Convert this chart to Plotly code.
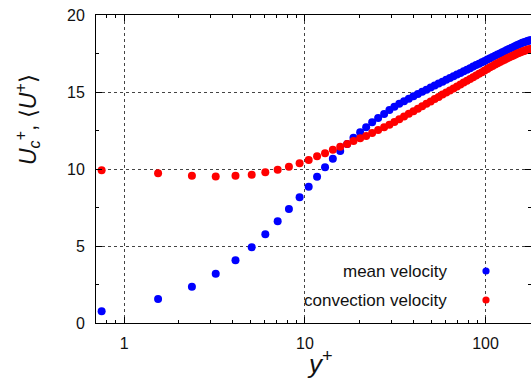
import math
import plotly.graph_objects as go

# ---- data ----
yplus = [0.75, 1.54, 2.37, 3.21, 4.13, 5.08, 6.04, 7.07, 8.16, 9.35,
         10.5, 11.68, 12.93, 14.28, 15.69, 17.15, 18.58, 20.23, 21.84, 23.57,
         25.44, 27.46, 29.37, 31.3, 33.3, 35.4, 37.6, 39.9, 42.2, 44.6,
         47.1, 49.7, 52.3, 55.0, 57.8, 60.6, 63.5, 66.5, 69.5, 72.6,
         75.7, 78.9, 82.1, 85.4, 88.7, 92.1, 95.5, 98.9, 102.4, 105.9,
         109.4, 113.0, 116.6, 120.2, 123.8, 127.4, 131.0, 134.6, 138.2, 141.8,
         145.4, 149.0, 152.6, 156.2, 159.8, 163.4, 167.0, 170.5, 174.0, 177.4,
         180.0]

mean_u = [0.76, 1.56, 2.36, 3.20, 4.07, 4.92, 5.76, 6.60, 7.40, 8.17,
          8.85, 9.50, 10.12, 10.67, 11.17, 11.62, 12.03, 12.38, 12.71, 13.03,
          13.31, 13.57, 13.83, 14.05, 14.23, 14.40, 14.56, 14.72, 14.87, 15.01,
          15.15, 15.29, 15.42, 15.55, 15.67, 15.79, 15.91, 16.02, 16.13, 16.24,
          16.35, 16.45, 16.55, 16.65, 16.75, 16.84, 16.93, 17.02, 17.11, 17.19,
          17.27, 17.35, 17.43, 17.50, 17.58, 17.65, 17.72, 17.79, 17.85, 17.91,
          17.97, 18.03, 18.09, 18.14, 18.19, 18.23, 18.27, 18.31, 18.34, 18.36,
          18.37]

conv_u = [9.92, 9.72, 9.56, 9.52, 9.56, 9.63, 9.79, 9.95, 10.15, 10.37,
          10.58, 10.83, 11.02, 11.25, 11.45, 11.62, 11.82, 11.99, 12.14, 12.34,
          12.53, 12.71, 12.88, 13.05, 13.23, 13.41, 13.58, 13.75, 13.92, 14.08,
          14.23, 14.39, 14.54, 14.68, 14.83, 14.97, 15.10, 15.23, 15.36, 15.49,
          15.61, 15.73, 15.85, 15.96, 16.07, 16.18, 16.29, 16.40, 16.50, 16.60,
          16.69, 16.78, 16.87, 16.95, 17.03, 17.10, 17.17, 17.24, 17.30, 17.36,
          17.42, 17.48, 17.53, 17.58, 17.63, 17.67, 17.71, 17.74, 17.77, 17.79,
          17.80]

x_major = [1, 10, 100]
x_major_text = ["1", "10", "100"]
x_minor = [0.7, 0.8, 0.9, 2, 3, 4, 5, 6, 7, 8, 9,
           20, 30, 40, 50, 60, 70, 80, 90]
y_major = [0, 5, 10, 15, 20]
y_minor = [2.5, 7.5, 12.5, 17.5]

series_names = ["mean velocity", "convection velocity"]
series_colors = ["#0000ff", "#ff0000"]

FONT = "Liberation Sans, Arial, Helvetica, sans-serif"
W, H = 531, 378
ML, MR, MT, MB = 96, 0, 15, 55

fig = go.Figure()
fig.add_trace(go.Scatter(x=yplus, y=mean_u, mode="markers", name=series_names[0],
                         marker=dict(color=series_colors[0], size=8, line=dict(width=0)),
                         showlegend=False, cliponaxis=True))
fig.add_trace(go.Scatter(x=yplus, y=conv_u, mode="markers", name=series_names[1],
                         marker=dict(color=series_colors[1], size=8, line=dict(width=0)),
                         showlegend=False, cliponaxis=True))

x_lo = math.log10(0.698)
x_hi = math.log10(178.5)

axis_common = dict(
    showline=True, linecolor="black", linewidth=1, mirror="allticks",
    ticks="inside", ticklen=6, tickwidth=1, tickcolor="black",
    showgrid=True, gridcolor="#444444", griddash="dot", gridwidth=1,
    zeroline=False,
    tickfont=dict(family=FONT, size=16, color="#111111"),
)

fig.update_xaxes(type="log", range=[x_lo, x_hi], tickmode="array",
                 tickvals=x_major, ticktext=x_major_text,
                 minor=dict(tickvals=x_minor, ticks="inside", ticklen=3,
                            tickcolor="black", showgrid=False),
                 ticklabelstandoff=6, **axis_common)
fig.update_yaxes(range=[0, 20], tickmode="array", tickvals=y_major,
                 minor=dict(tickvals=y_minor, ticks="inside", ticklen=3,
                            tickcolor="black", showgrid=False),
                 ticklabelstandoff=7, **axis_common)

pw = W - ML - MR
ph = H - MT - MB

def px2paper_x(px):
    return (px - ML) / pw

def px2paper_y(py):
    return (H - MB - py) / ph

shapes = [
    # white key box covering the grid
    dict(type="rect", xref="paper", yref="paper", layer="between",
         x0=px2paper_x(292), x1=1.0, y0=px2paper_y(322), y1=px2paper_y(251),
         fillcolor="white", line=dict(width=0)),
]
annotations = []
key_y = [271, 300]
for name, col, ky in zip(series_names, series_colors, key_y):
    annotations.append(dict(xref="paper", yref="paper", x=px2paper_x(449), y=px2paper_y(ky),
                            text=name, showarrow=False, xanchor="right", yanchor="middle",
                            font=dict(family=FONT, size=17, color="#111111")))
    shapes.append(dict(type="circle", xref="paper", yref="paper", layer="above",
                       xsizemode="pixel", ysizemode="pixel",
                       xanchor=px2paper_x(486), yanchor=px2paper_y(ky),
                       x0=-3.6, x1=3.6, y0=-3.6, y1=3.6,
                       fillcolor=col, line=dict(width=0)))

annotations.append(dict(xref="paper", yref="paper", x=px2paper_x(320), y=px2paper_y(362),
                        text="<i>y</i><sup>+</sup>", showarrow=False,
                        xanchor="center", yanchor="middle",
                        font=dict(family=FONT, size=26, color="#111111")))
annotations.append(dict(xref="paper", yref="paper", x=px2paper_x(27), y=px2paper_y(120),
                        text="<i>U</i><sub><i>c</i></sub><sup>+</sup>, \u27e8<i>U</i><sup>+</sup>\u27e9",
                        showarrow=False, textangle=-90,
                        xanchor="center", yanchor="middle",
                        font=dict(family=FONT, size=23, color="#111111")))

fig.update_layout(
    width=W, height=H,
    margin=dict(l=ML, r=MR, t=MT, b=MB, pad=0),
    paper_bgcolor="white", plot_bgcolor="white",
    shapes=shapes, annotations=annotations,
    showlegend=False,
    font=dict(family=FONT),
)

fig.write_html("out.html", config={"displayModeBar": False},
               post_script="document.body.style.margin='0';document.body.style.overflow='hidden';")
